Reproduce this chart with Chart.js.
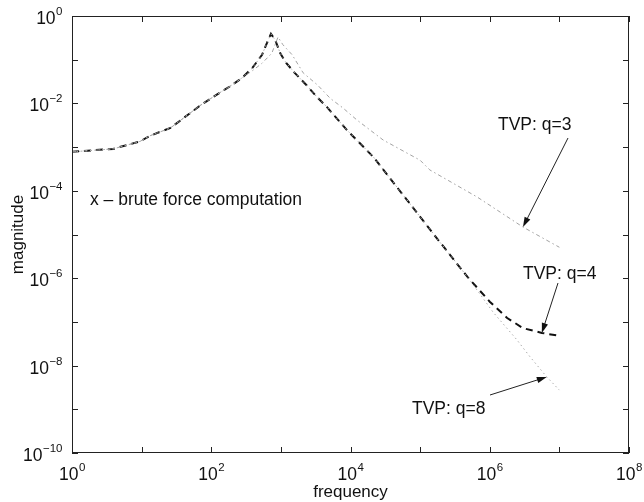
<!DOCTYPE html>
<html>
<head>
<meta charset="utf-8">
<script src="https://cdn.jsdelivr.net/npm/chart.js@4/dist/chart.umd.min.js"></script>
<style>
  html, body { margin: 0; padding: 0; background: #fff; }
  canvas { display: block; }
</style>
</head>
<body>
<canvas id="tvp" width="644" height="502"></canvas>
<script>
// frequency response, TVP reduced models vs brute force
var freqQ4 = [1, 3.9, 9.5, 13, 26, 69, 117, 182, 275, 390, 537, 630, 720, 830, 980, 1200, 1580, 2340, 3300, 4570, 8900, 21400, 64600, 195000, 479000, 1e6, 1.78e6, 3.0e6, 5.6e6, 1e7]
var magQ4 = [7.8e-4, 9.1e-4, 1.35e-3, 1.8e-3, 2.75e-3, 8.9e-3, 1.55e-2, 2.4e-2, 3.8e-2, 6.5e-2, 0.13, 0.24, 0.39, 0.28, 0.14, 0.083, 0.050, 0.026, 0.014, 8.3e-3, 2.45e-3, 5.9e-4, 6.2e-5, 6.5e-6, 1.07e-6, 2.9e-7, 1.23e-7, 7.2e-8, 5.6e-8, 4.8e-8]

var freqQ3 = [1, 3.9, 9.5, 13, 26, 69, 117, 182, 275, 390, 537, 740, 910, 1070, 1450, 2090, 3390, 5130, 7760, 12300, 29500, 1e5, 138000, 660000, 3.0e6, 1e7]
var magQ3 = [7.8e-4, 9.1e-4, 1.35e-3, 1.8e-3, 2.75e-3, 8.9e-3, 1.55e-2, 2.4e-2, 3.8e-2, 5.6e-2, 0.083, 0.14, 0.33, 0.22, 0.13, 0.050, 0.026, 0.013, 7.9e-3, 4.2e-3, 1.45e-3, 5.0e-4, 3.0e-4, 7.2e-5, 1.48e-5, 5.1e-6]

var freqQ8 = [1, 3.9, 9.5, 13, 26, 69, 117, 182, 275, 390, 537, 630, 720, 830, 980, 1200, 1580, 2340, 3300, 4570, 8900, 21400, 64600, 195000, 479000, 1.12e6, 2.45e6, 3.8e6, 6.6e6, 1e7]
var magQ8 = [7.8e-4, 9.1e-4, 1.35e-3, 1.8e-3, 2.75e-3, 8.9e-3, 1.55e-2, 2.4e-2, 3.8e-2, 6.5e-2, 0.13, 0.24, 0.39, 0.28, 0.14, 0.083, 0.050, 0.026, 0.014, 8.3e-3, 2.45e-3, 5.9e-4, 6.2e-5, 6.5e-6, 1.07e-6, 1.66e-7, 3.9e-8, 1.58e-8, 5.5e-9, 2.75e-9]

// decade exponents for the tick marks, every other one gets a label
var xDecades = [0, 1, 2, 3, 4, 5, 6, 7, 8]
var yDecades = [-10, -9, -8, -7, -6, -5, -4, -3, -2, -1, 0]
var xLabelled = [0, 2, 4, 6, 8]
var yLabelled = [-10, -8, -6, -4, -2, 0]

var xTitle = 'frequency'
var yTitle = 'magnitude'
var bruteText = 'x \u2013 brute force computation'

// callouts: text spot and arrow tail are offsets inside the plot box, the tip is a data point
var callouts = [
  { text: 'TVP: q=3', tx: 426, ty: 114, ax: 496, ay: 122, f: freqQ3[24], m: magQ3[24] },
  { text: 'TVP: q=4', tx: 451, ty: 263, ax: 486, ay: 267, f: freqQ4[28], m: magQ4[28] },
  { text: 'TVP: q=8', tx: 340, ty: 398, ax: 418, ay: 379, f: freqQ8[28], m: magQ8[28] }
]

function pts(fs, ms) {
  var out = []
  for (var i = 0; i < fs.length; i++) out.push({ x: fs[i], y: ms[i] })
  return out
}

var FONT = '"Liberation Sans", Arial, Helvetica, sans-serif'

function powLabel(ctx, e, x, y, align) {
  var base = '10'
  var sup = (e < 0 ? '\u2212' : '') + Math.abs(e)
  ctx.font = '17.5px ' + FONT
  var w1 = ctx.measureText(base).width
  ctx.font = '11.5px ' + FONT
  var w2 = ctx.measureText(sup).width
  var x0 = align === 'center' ? x - (w1 + w2) / 2 : x - (w1 + w2)
  ctx.textAlign = 'left'
  ctx.textBaseline = 'alphabetic'
  ctx.font = '17.5px ' + FONT
  ctx.fillText(base, x0, y)
  ctx.font = '11.5px ' + FONT
  ctx.fillText(sup, x0 + w1 + 0.5, y - 9)
}

function arrow(ctx, x1, y1, x2, y2) {
  var a = Math.atan2(y2 - y1, x2 - x1)
  var len = 10, half = 3.2
  ctx.beginPath()
  ctx.moveTo(x1, y1)
  ctx.lineTo(x2 - Math.cos(a) * len * 0.8, y2 - Math.sin(a) * len * 0.8)
  ctx.stroke()
  ctx.beginPath()
  ctx.moveTo(x2, y2)
  ctx.lineTo(x2 - Math.cos(a) * len - Math.sin(a) * half, y2 - Math.sin(a) * len + Math.cos(a) * half)
  ctx.lineTo(x2 - Math.cos(a) * len + Math.sin(a) * half, y2 - Math.sin(a) * len - Math.cos(a) * half)
  ctx.closePath()
  ctx.fill()
}

var matlabAxes = {
  id: 'matlabAxes',
  afterDraw: function(chart) {
    var ctx = chart.ctx
    var area = chart.chartArea
    var xs = chart.scales.x, ys = chart.scales.y
    ctx.save()
    ctx.strokeStyle = '#222'
    ctx.fillStyle = '#111'
    ctx.lineWidth = 1

    // box
    ctx.strokeRect(Math.round(area.left) + 0.5, Math.round(area.top) + 0.5,
      Math.round(area.right - area.left) - 1, Math.round(area.bottom - area.top) - 1)

    // inward ticks on all four sides
    var tl = 6
    ctx.beginPath()
    xDecades.forEach(function(d) {
      var px = Math.round(xs.getPixelForValue(Math.pow(10, d))) + 0.5
      ctx.moveTo(px, area.bottom); ctx.lineTo(px, area.bottom - tl)
      ctx.moveTo(px, area.top); ctx.lineTo(px, area.top + tl)
    })
    yDecades.forEach(function(d) {
      var py = Math.round(ys.getPixelForValue(Math.pow(10, d))) + 0.5
      ctx.moveTo(area.left, py); ctx.lineTo(area.left + tl, py)
      ctx.moveTo(area.right, py); ctx.lineTo(area.right - tl, py)
    })
    ctx.stroke()

    // tick labels
    xLabelled.forEach(function(d) {
      powLabel(ctx, d, xs.getPixelForValue(Math.pow(10, d)), area.bottom + 27, 'center')
    })
    yLabelled.forEach(function(d) {
      powLabel(ctx, d, area.left - 10, ys.getPixelForValue(Math.pow(10, d)) + 8, 'right')
    })

    // axis titles
    ctx.font = '17px ' + FONT
    ctx.textAlign = 'center'
    ctx.textBaseline = 'alphabetic'
    ctx.fillText(xTitle, (area.left + area.right) / 2, area.bottom + 44)
    ctx.save()
    ctx.translate(23, (area.top + area.bottom) / 2)
    ctx.rotate(-Math.PI / 2)
    ctx.fillText(yTitle, 0, 0)
    ctx.restore()

    // annotations
    ctx.font = '17.5px ' + FONT
    ctx.textAlign = 'left'
    ctx.fillText(bruteText, area.left + 18, area.top + 189)
    callouts.forEach(function(c) {
      ctx.fillText(c.text, area.left + c.tx, area.top + c.ty)
      arrow(ctx, area.left + c.ax, area.top + c.ay, xs.getPixelForValue(c.f), ys.getPixelForValue(c.m))
    })
    ctx.restore()
  }
}

var chart = new Chart(document.getElementById('tvp'), {
  type: 'scatter',
  data: {
    datasets: [
      {
        label: 'TVP: q=8',
        data: pts(freqQ8, magQ8),
        showLine: true,
        borderColor: '#ababab',
        borderWidth: 1,
        borderDash: [1.5, 3],
        pointRadius: 0
      },
      {
        label: 'TVP: q=3',
        data: pts(freqQ3, magQ3),
        showLine: true,
        borderColor: '#a2a2a2',
        borderWidth: 1,
        borderDash: [4, 3, 1.5, 3],
        pointRadius: 0
      },
      {
        label: 'TVP: q=4',
        data: pts(freqQ4, magQ4),
        showLine: true,
        borderColor: '#111',
        borderWidth: 2,
        borderDash: [7, 5],
        pointRadius: 0
      }
    ]
  },
  options: {
    responsive: false,
    animation: false,
    devicePixelRatio: 1,
    layout: { padding: { left: 72, top: 16, right: 15, bottom: 49 } },
    plugins: { legend: { display: false }, tooltip: { enabled: false } },
    elements: { line: { tension: 0 } },
    scales: {
      x: { type: 'logarithmic', min: 1, max: 1e8, display: false },
      y: { type: 'logarithmic', min: 1e-10, max: 1, display: false }
    }
  },
  plugins: [matlabAxes]
})
</script>
</body>
</html>
